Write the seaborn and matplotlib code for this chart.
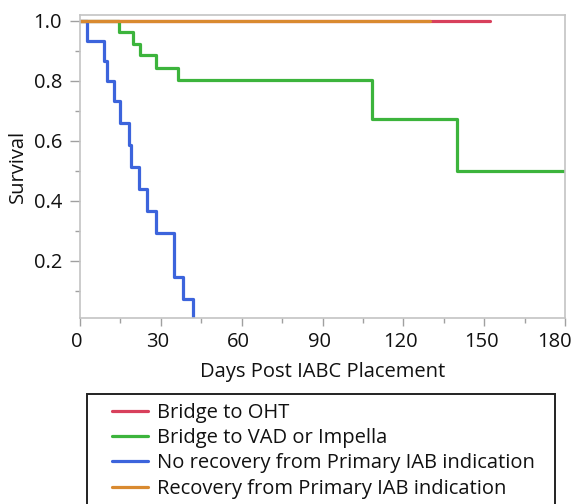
import numpy as np
import pandas as pd
import matplotlib
matplotlib.use("Agg")
import matplotlib.pyplot as plt
from matplotlib.ticker import MultipleLocator
from matplotlib.transforms import ScaledTranslation
from matplotlib.patches import Rectangle
import seaborn as sns

groups = ["Bridge to OHT", "Bridge to VAD or Impella",
          "No recovery from Primary IAB indication", "Recovery from Primary IAB indication"]
colors = ["#d8405c", "#3cb43c", "#3c64dc", "#d98a30"]

oht_t = [0, 152]
oht_s = [1.0, 1.0]
vad_t = [0, 14.6, 19.8, 22.3, 28.1, 36.2, 108.4, 140, 180]
vad_s = [1.0, 0.962, 0.923, 0.887, 0.844, 0.803, 0.674, 0.5, 0.5]
norec_t = [0, 2.5, 8.8, 9.9, 12.7, 14.9, 18.2, 18.8, 22, 25, 28.1, 35, 38.2, 42.1]
norec_s = [1.0, 0.933, 0.867, 0.80, 0.733, 0.66, 0.587, 0.514, 0.44, 0.367, 0.293, 0.147, 0.073, 0.0]
rec_t = [0, 130]
rec_s = [1.0, 1.0]

x_ticks = [0, 30, 60, 90, 120, 150, 180]
y_ticks = [0.2, 0.4, 0.6, 0.8, 1.0]
y_tick_labels = ["0.2", "0.4", "0.6", "0.8", "1.0"]

series = [(oht_t, oht_s), (vad_t, vad_s), (norec_t, norec_s), (rec_t, rec_s)]
frames = []
for g, (t, s) in zip(groups, series):
    frames.append(pd.DataFrame({"Days": t, "Survival": s, "Group": g}))
df = pd.concat(frames, ignore_index=True)

sns.set_style("white")
plt.rcParams["font.family"] = ["Open Sans", "DejaVu Sans"]
FS = 14.5

fig = plt.figure(figsize=(5.72, 5.04), dpi=100)
ax = fig.add_axes([80/572, 1-318/504, (565-80)/572, (318-15)/504])

sns.lineplot(data=df, x="Days", y="Survival", hue="Group", hue_order=groups,
             palette=colors, estimator=None, sort=False, drawstyle="steps-post",
             linewidth=2.3, ax=ax, legend=True)

ax.set_xlim(0, 180)
ax.set_ylim(0.01, 1.02)
ax.set_xticks(x_ticks)
ax.set_xticklabels([str(v) for v in x_ticks])
ax.xaxis.set_minor_locator(MultipleLocator(15))
ax.set_yticks(y_ticks)
ax.set_yticklabels(y_tick_labels)
ax.yaxis.set_minor_locator(MultipleLocator(0.1))
ax.tick_params(which="major", direction="out", width=1, color="#a0a0a0",
               labelsize=FS, labelcolor="#111111", bottom=True, left=True)
ax.tick_params(axis="x", which="major", length=6, pad=4)
ax.tick_params(axis="y", which="major", length=7, pad=6)
ax.tick_params(which="minor", direction="out", length=3.5, width=1, color="#a0a0a0",
               bottom=True, left=True)
for sp in ax.spines.values():
    sp.set_color("#c4c4c4")
    sp.set_linewidth(1.2)
ax.set_xlabel("Days Post IABC Placement", fontsize=FS, labelpad=7, color="#111111")
ax.set_ylabel("Survival", fontsize=FS, labelpad=4, color="#111111")

for lab in ax.get_xticklabels():
    dx = -11 if lab.get_text() == "180" else -3
    lab.set_transform(lab.get_transform() + ScaledTranslation(dx/100, 0, fig.dpi_scale_trans))

handles, labels = ax.get_legend_handles_labels()
ax.get_legend().remove()
leg = fig.legend(handles, labels, loc="upper left", bbox_to_anchor=(112/572, 1-403/504),
                 frameon=False, fontsize=FS,
                 handlelength=1.8, handletextpad=0.42, labelspacing=0.26,
                 borderpad=0, borderaxespad=0)
for h in leg.get_lines():
    h.set_linewidth(2.3)
for t in leg.get_texts():
    t.set_color("#111111")

box = Rectangle((87/572, -4/504), (555-87)/572, (504+4-394)/504, transform=fig.transFigure,
                fill=False, edgecolor="#222222", linewidth=1.4)
fig.patches.append(box)

fig.savefig("out.png", dpi=100)
